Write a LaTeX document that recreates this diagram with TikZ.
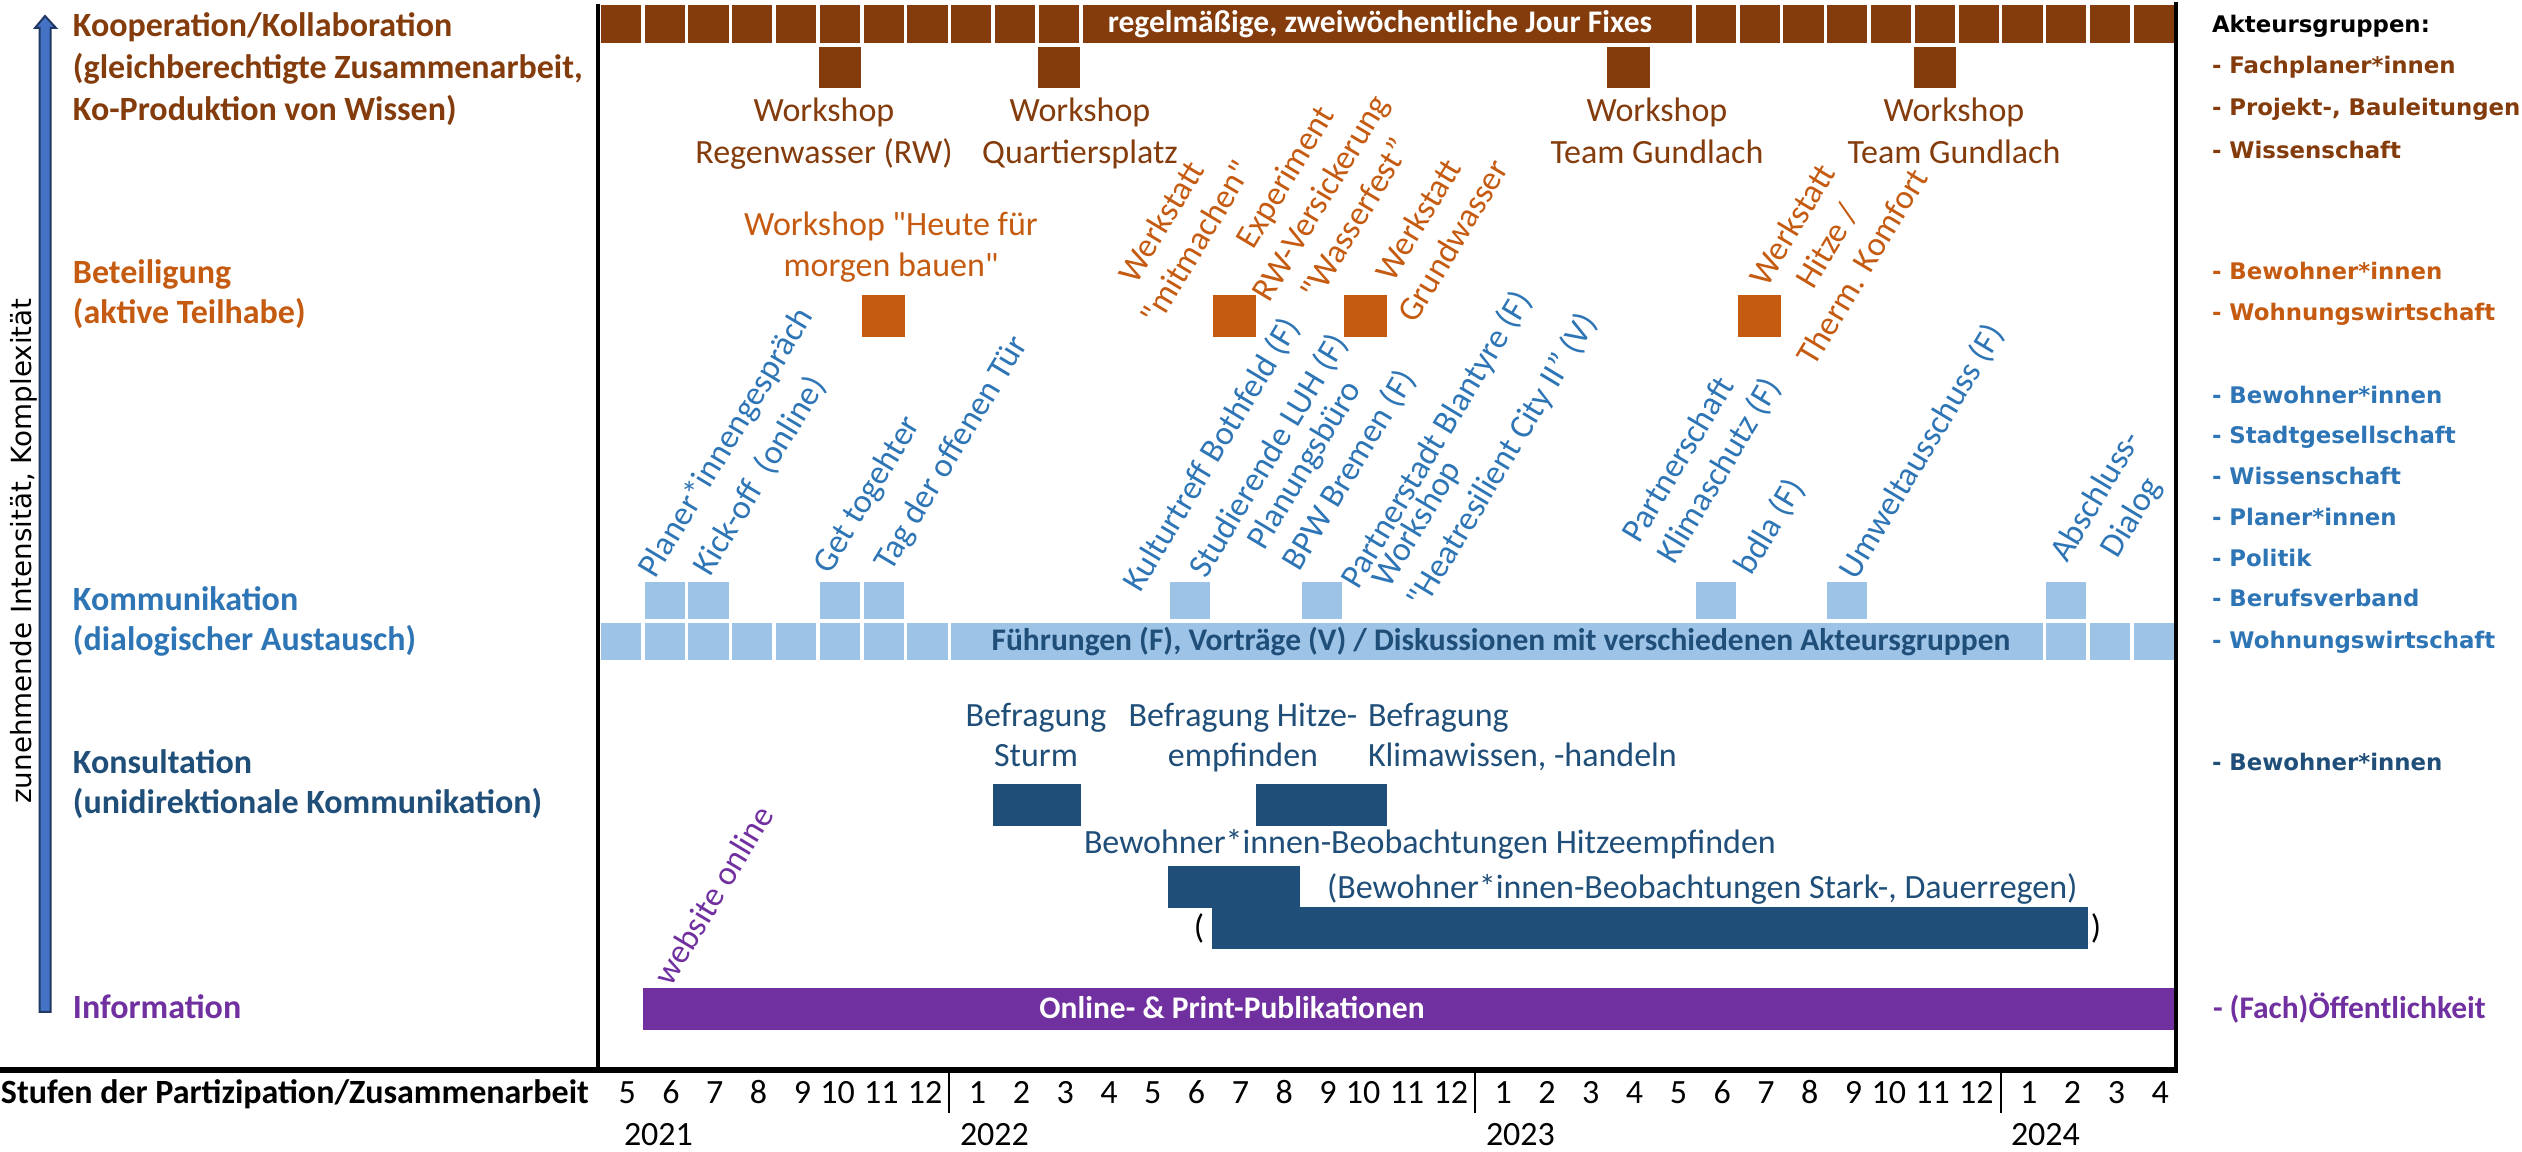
\documentclass[tikz,border=0pt]{standalone}
\usepackage{fontspec}
\setmainfont{Carlito}
\newfontfamily\vfont{DejaVu Sans}
\definecolor{cBrown}{HTML}{843C0C}
\definecolor{cOrange}{HTML}{C55A11}
\definecolor{cBlue}{HTML}{2E75B6}
\definecolor{cLight}{HTML}{9DC3E6}
\definecolor{cDark}{HTML}{1F4E79}
\definecolor{cPurple}{HTML}{7030A0}
\definecolor{cArrow}{HTML}{4472C4}
\definecolor{cArrowEdge}{HTML}{203864}
\newcommand\fmain{\fontsize{9.67pt}{11.7pt}\selectfont}
\newcommand\fbarf{\fontsize{8.95pt}{11pt}\selectfont\bfseries}
\newcommand\fright{\vfont\bfseries\fontsize{6.5pt}{8pt}\selectfont}
\newcommand\fvert{\vfont\fontsize{7.9pt}{9pt}\selectfont}
\newcommand\qd{\textquotedbl}
\begin{document}
\begin{tikzpicture}[x=0.1mm,y=-0.1mm,
  every node/.style={inner sep=0pt,outer sep=0pt},
  txt/.style={font=\fmain,text height=2.45mm,text depth=0.68mm},
  txtb/.style={font=\fmain\bfseries,text height=2.45mm,text depth=0.68mm,anchor=west},
  bartxt/.style={font=\fbarf,text height=2.3mm,text depth=0.62mm},
  rtxt/.style={font=\fright,text height=1.7mm,text depth=0.47mm,anchor=west},
  rlab/.style={font=\fmain,rotate=59,anchor=center},
  rscope/.style={rotate=59,transform shape},
]
\useasboundingbox (0,0) rectangle (2522,1152);
\fill[white] (0,0) rectangle (2522,1152);

% ---------- Jour fixe bar ----------
\foreach \i in {0,...,10} \fill[cBrown] ({599+43.8*\i+1.8},5) rectangle ({599+43.8*(\i+1)-1.8},43);
\foreach \i in {25,...,35} \fill[cBrown] ({599+43.8*\i+1.8},5) rectangle ({599+43.8*(\i+1)-1.8},43);
\fill[cBrown] ({599+43.8*11+1.8},5) rectangle ({599+43.8*25-1.8},43);
\node[bartxt,text=white] (jf) at (1380,24) {regelmäßige, zweiwöchentliche Jour Fixes};

% ---------- Workshops ----------
\foreach \i in {5,10,23,30} \fill[cBrown] ({599+43.8*\i+0.5},47) rectangle ({599+43.8*(\i+1)-0.5},88);
\node[txt,text=cBrown] (w1a) at (824,113) {Workshop};
\node[txt,text=cBrown] (w1b) at (824,155) {Regenwasser (RW)};
\node[txt,text=cBrown] (w2a) at (1080,113) {Workshop};
\node[txt,text=cBrown] (w2b) at (1080,155) {Quartiersplatz};
\node[txt,text=cBrown] (w3a) at (1657,113) {Workshop};
\node[txt,text=cBrown] (w3b) at (1657,155) {Team Gundlach};
\node[txt,text=cBrown] (w4a) at (1954,113) {Workshop};
\node[txt,text=cBrown] (w4b) at (1954,155) {Team Gundlach};

% ---------- Beteiligung ----------
\foreach \i in {6,14,17,26} \fill[cOrange] ({599+43.8*\i+0.5},295) rectangle ({599+43.8*(\i+1)-0.5},337);
\node[txt,text=cOrange] (h1) at (891,227) {Workshop \qd Heute für};
\node[txt,text=cOrange] (h2) at (891,268) {morgen bauen\qd};
\begin{scope}[shift={(1163,223)},rscope]
  \node[txt,text=cOrange] (o1a) at (0,0) {Werkstatt};
  \node[txt,text=cOrange] (o1b) at (0,41) {\qd mitmachen\qd};
\end{scope}
\begin{scope}[shift={(1287,178)},rscope]
  \node[txt,text=cOrange] (o2a) at (0,0) {Experiment};
  \node[txt,text=cOrange] (o2b) at (0,41) {RW-Versickerung};
  \node[txt,text=cOrange] (o2c) at (0,82) {\qd Wasserfest”};
\end{scope}
\begin{scope}[shift={(1420,221)},rscope]
  \node[txt,text=cOrange] (o3a) at (0,0) {Werkstatt};
  \node[txt,text=cOrange] (o3b) at (0,41) {Grundwasser};
\end{scope}
\begin{scope}[shift={(1794,226)},rscope]
  \node[txt,text=cOrange] (o4a) at (0,0) {Werkstatt};
  \node[txt,text=cOrange] (o4b) at (0,41) {Hitze /};
  \node[txt,text=cOrange] (o4c) at (0,82) {Therm. Komfort};
\end{scope}

% ---------- Kommunikation ----------
\foreach \i in {1,2,5,6,13,16,25,28,33} \fill[cLight] ({599+43.8*\i+1.8},582) rectangle ({599+43.8*(\i+1)-1.8},619);
\foreach \i in {0,...,7} \fill[cLight] ({599+43.8*\i+1.8},623) rectangle ({599+43.8*(\i+1)-1.8},660);
\foreach \i in {33,34,35} \fill[cLight] ({599+43.8*\i+1.8},623) rectangle ({599+43.8*(\i+1)-1.8},660);
\fill[cLight] ({599+43.8*8+1.8},623) rectangle ({599+43.8*33-1.8},660);
\node[bartxt,text=cDark] (fv) at (1501,642) {Führungen (F), Vorträge (V) / Diskussionen mit verschiedenen Akteursgruppen};

\node[rlab,text=cBlue] (b1) at (727,443) {Planer*innengespräch};
\node[rlab,text=cBlue] (b2) at (760,476) {Kick-off~~(online)};
\node[rlab,text=cBlue] (b3) at (868,495) {Get togehter};
\node[rlab,text=cBlue] (b4) at (952,454) {Tag der offenen Tür};
\node[rlab,text=cBlue] (b5) at (1212,455) {Kulturtreff Bothfeld (F)};
\node[rlab,text=cBlue] (b6) at (1269,456) {Studierende LUH (F)};
\begin{scope}[shift={(1257,547)},rscope]
  \node[txt,text=cBlue,anchor=west] (b7a) at (0,0) {Planungsbüro};
  \node[txt,text=cBlue,anchor=west] (b7b) at (0,41) {BPW Bremen (F)};
\end{scope}
\node[rlab,text=cBlue] (b8) at (1437,440) {Partnerstadt Blantyre (F)};
\begin{scope}[shift={(1382,585)},rscope]
  \node[txt,text=cBlue,anchor=west] (b9a) at (0,0) {Workshop};
  \node[txt,text=cBlue,anchor=west] (b9b) at (0,41) {\qd Heatresilient City II” (V)};
\end{scope}
\begin{scope}[shift={(1632,540)},rscope]
  \node[txt,text=cBlue,anchor=west] (b10a) at (0,0) {Partnerschaft};
  \node[txt,text=cBlue,anchor=west] (b10b) at (0,41) {Klimaschutz (F)};
\end{scope}
\node[rlab,text=cBlue] (b11) at (1770,527) {bdla (F)};
\node[rlab,text=cBlue] (b12) at (1922,452) {Umweltausschuss (F)};
\begin{scope}[shift={(2097,497)},rscope]
  \node[txt,text=cBlue] (b13a) at (0,0) {Abschluss-};
  \node[txt,text=cBlue] (b13b) at (0,41) {Dialog};
\end{scope}

% ---------- Konsultation ----------
\fill[cDark] ({599+43.8*9},784) rectangle ({599+43.8*11},826);
\fill[cDark] ({599+43.8*15},784) rectangle ({599+43.8*18},826);
\fill[cDark] ({599+43.8*13},866) rectangle ({599+43.8*16},908);
\fill[cDark] ({599+43.8*14},907) rectangle ({599+43.8*34},949);
\node[txt,text=cDark] (k1a) at (1036,718) {Befragung};
\node[txt,text=cDark] (k1b) at (1036,758) {Sturm};
\node[txt,text=cDark] (k2a) at (1243,718) {Befragung Hitze-};
\node[txt,text=cDark] (k2b) at (1243,758) {empfinden};
\node[txt,text=cDark,anchor=west] (k3a) at (1368,718) {Befragung};
\node[txt,text=cDark,anchor=west] (k3b) at (1368,758) {Klimawissen, -handeln};
\node[txt,text=cDark,anchor=west] (k4) at (1084,845) {Bewohner*innen-Beobachtungen Hitzeempfinden};
\node[txt,text=cDark,anchor=west] (k5) at (1327,890) {(Bewohner*innen-Beobachtungen Stark-, Dauerregen)};
\node[txt] (pl) at (1199,930) {(};
\node[txt] (pr) at (2096,930) {)};

% ---------- Information ----------
\fill[cPurple] ({599+43.8},988) rectangle (2176,1030);
\node[bartxt,text=white] (pub) at (1232,1010) {Online- \& Print-Publikationen};
\node[rlab,text=cPurple] (web) at (713,895) {website online};

% ---------- Frame and axis ----------
\draw[line width=0.4mm] (598,4) -- (598,1070);
\draw[line width=0.4mm] (2176,2) -- (2176,1070);
\draw[line width=0.6mm] (0,1070) -- (2178,1070);
\foreach \i in {8,20,32} \draw[line width=0.2mm] ({599+43.8*\i},1072) -- ({599+43.8*\i},1113);
\foreach \m [count=\i from 0] in {5,6,7,8,9,10,11,12,1,2,3,4,5,6,7,8,9,10,11,12,1,2,3,4,5,6,7,8,9,10,11,12,1,2,3,4}
  \node[txt,anchor=east] (m\i) at ({599+43.8*(\i+1)-7},1095) {\m};
\node[txt,anchor=west] (y1) at (624,1137) {2021};
\node[txt,anchor=west] (y2) at (960,1137) {2022};
\node[txt,anchor=west] (y3) at (1486,1137) {2023};
\node[txt,anchor=west] (y4) at (2011,1137) {2024};
\node[txtb,text=black] (stufen) at (1,1095) {Stufen der Partizipation/Zusammenarbeit};

% ---------- Left axis ----------
\filldraw[fill=cArrow,draw=cArrowEdge,line width=0.2mm] (39.5,1012) -- (39.5,28) -- (35,28) -- (45,16) -- (56,28) -- (50.5,28) -- (50.5,1012) -- cycle;
\node[font=\fvert,rotate=90,anchor=base] (axl) at (31,551) {zunehmende Intensität, Komplexität};

\node[txtb,text=cBrown] (l1a) at (73,28) {Kooperation/Kollaboration};
\node[txtb,text=cBrown] (l1b) at (73,70) {(gleichberechtigte Zusammenarbeit,};
\node[txtb,text=cBrown] (l1c) at (73,112) {Ko-Produktion von Wissen)};
\node[txtb,text=cOrange] (l2a) at (73,275) {Beteiligung};
\node[txtb,text=cOrange] (l2b) at (73,315) {(aktive Teilhabe)};
\node[txtb,text=cBlue] (l3a) at (73,602) {Kommunikation};
\node[txtb,text=cBlue] (l3b) at (73,642) {(dialogischer Austausch)};
\node[txtb,text=cDark] (l4a) at (73,765) {Konsultation};
\node[txtb,text=cDark] (l4b) at (73,805) {(unidirektionale Kommunikation)};
\node[txtb,text=cPurple] (l5) at (73,1010) {Information};

% ---------- Right column ----------
\node[rtxt,text=black] (r0) at (2212,26) {Akteursgruppen:};
\node[rtxt,text=cBrown] (r1) at (2212,67) {- Fachplaner*innen};
\node[rtxt,text=cBrown] (r2) at (2212,109) {- Projekt-, Bauleitungen};
\node[rtxt,text=cBrown] (r3) at (2212,152) {- Wissenschaft};
\node[rtxt,text=cOrange] (r4) at (2212,273) {- Bewohner*innen};
\node[rtxt,text=cOrange] (r5) at (2212,314) {- Wohnungswirtschaft};
\node[rtxt,text=cBlue] (r6) at (2212,397) {- Bewohner*innen};
\node[rtxt,text=cBlue] (r7) at (2212,437) {- Stadtgesellschaft};
\node[rtxt,text=cBlue] (r8) at (2212,478) {- Wissenschaft};
\node[rtxt,text=cBlue] (r9) at (2212,519) {- Planer*innen};
\node[rtxt,text=cBlue] (r10) at (2212,560) {- Politik};
\node[rtxt,text=cBlue] (r11) at (2212,600) {- Berufsverband};
\node[rtxt,text=cBlue] (r12) at (2212,642) {- Wohnungswirtschaft};
\node[rtxt,text=cDark] (r13) at (2212,764) {- Bewohner*innen};
\node[bartxt,text=cPurple,anchor=west] (r14) at (2213,1010) {- (Fach)Öffentlichkeit};
\end{tikzpicture}
\end{document}
